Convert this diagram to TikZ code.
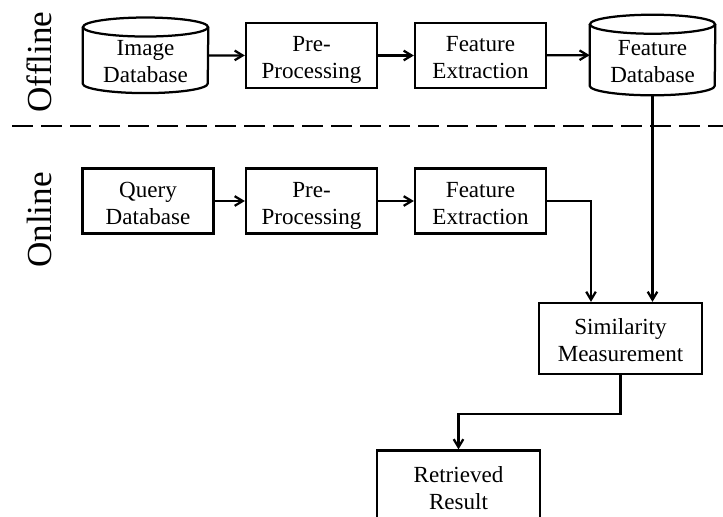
\documentclass[tikz,border=0pt]{standalone}
\usepackage{fontspec}
\setmainfont{Liberation Serif}
\usetikzlibrary{arrows.meta}

\begin{document}
\begin{tikzpicture}[x=0.025cm, y=-0.025cm,
    txt/.style={align=center, inner sep=0pt, text height=1.15cm, text depth=0pt,
      font=\fontsize{16.4}{19.2}\selectfont},
    box/.style={txt, draw, line width=1.6pt,
      minimum width=3.275cm, minimum height=1.625cm},
    wide/.style={box, minimum width=4.075cm, minimum height=1.775cm},
    db/.style={txt, text height=1.35cm, minimum width=3.125cm, minimum height=1.875cm},
    dbline/.style={line width=1.6pt},
    arr/.style={line width=1.6pt, -{Straight Barb[length=0.2cm,width=0.24cm]}},
    side/.style={rotate=90, font=\fontsize{25}{28}\selectfont}]

    \useasboundingbox (0,0) rectangle (723,516);

    % Offline / Online labels
    \node[side] (offline) at (39,62)  {Offline};
    \node[side] (online)  at (39,220) {Online};

    % Dashed separator
    \draw[line width=2.1pt, dash pattern=on 0.525cm off 0.2cm] (12,126) -- (723,126);

    % Offline row
    \node[db]  (imgdb) at (145.5,55.3) {Image\\Database};
    \node[box] (pre1)  at (311.5,55.5) {Pre-\\Processing};
    \node[box] (fe1)   at (480.5,55.5) {Feature\\Extraction};
    \node[db, minimum height=2cm] (ftdb) at (652.5,55) {Feature\\Database};

    % Cylinder outlines of the two databases
    \foreach \n in {imgdb,ftdb} {
      \draw[dbline] ([yshift=-0.2375cm]\n.north) ellipse [x radius=1.5625cm, y radius=0.2375cm];
      \draw[dbline] ([yshift=-0.2375cm]\n.north west) -- ([yshift=0.2375cm]\n.south west)
        arc [start angle=180, end angle=360, x radius=1.5625cm, y radius=0.2375cm]
        -- ([yshift=-0.2375cm]\n.north east);
    }

    % Online row
    \node[box] (query) at (148,201)   {Query\\Database};
    \node[box] (pre2)  at (311.5,201) {Pre-\\Processing};
    \node[box] (fe2)   at (480.5,201) {Feature\\Extraction};

    % Matching and result
    \node[wide] (sim) at (620.5,338.5) {Similarity\\Measurement};
    \node[wide] (ret) at (458.5,486)   {Retrieved\\Result};
    \coordinate (simin) at (591,0);

    % Arrows
    \draw[arr] (imgdb) -- (pre1);
    \draw[arr] (pre1) -- (fe1);
    \draw[arr] (fe1) -- (ftdb);
    \draw[arr] (query) -- (pre2);
    \draw[arr] (pre2) -- (fe2);
    \draw[arr] (fe2.east) -| (simin |- sim.north);
    \draw[arr] (ftdb.south) -- (ftdb.south |- sim.north);
    \draw[arr] (sim.south) -- ++(0,39) -| (ret.north);

\end{tikzpicture}
\end{document}
